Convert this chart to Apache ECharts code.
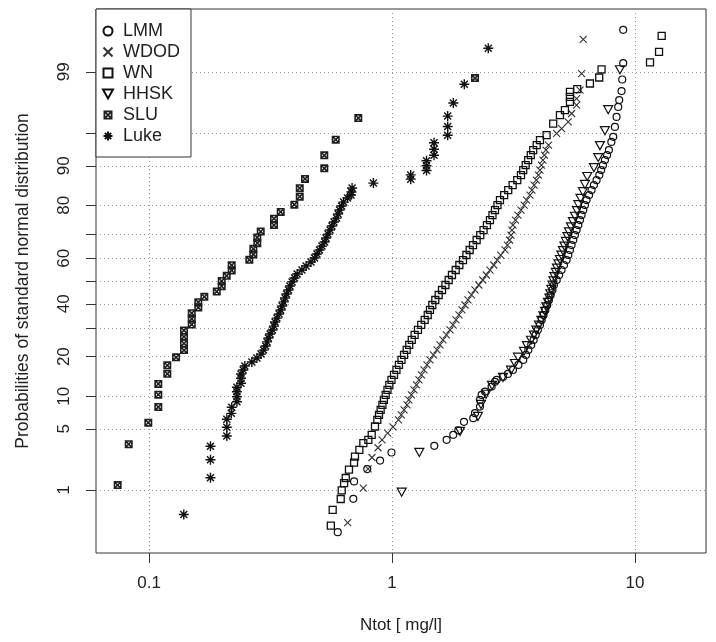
<!DOCTYPE html>
<html><head><meta charset="utf-8">
<script src="https://cdn.jsdelivr.net/npm/echarts@6/dist/echarts.min.js"></script>
<style>html,body{margin:0;padding:0;background:#fff}#c{width:716px;height:642px}</style>
</head><body><div id="c"></div>
<script>
// ---- axis definitions ----
const xTicks = [0.1, 1, 10];
const xRange = [0.0605, 19.6];
const yTickProbs = [1, 5, 10, 20, 30, 40, 50, 60, 70, 80, 90, 95, 99];
const yLabelProbs = [1, 5, 10, 20, 40, 60, 80, 90, 99];
const yProbRange = [0.124, 99.876];
const seriesNames = ['LMM', 'WDOD', 'WN', 'HHSK', 'SLU', 'Luke'];

// ---- data: Ntot [mg/l] and plotting probability [%] ----
const lmmX = [0.598,0.693,0.698,0.791,0.893,0.995,1.493,1.678,1.787,1.874,1.978,2.160,2.195,2.302,2.302,2.338,2.414,2.570,
  2.653,2.695,2.862,3.000,3.146,3.313,3.468,3.560,3.640,3.740,3.827,3.902,3.983,4.064,4.131,4.203,4.277,4.354,4.424,4.498,4.575,4.638,4.761,4.873,
  4.983,5.104,5.229,5.316,5.399,5.483,5.570,5.661,5.749,5.844,5.936,6.028,6.127,6.224,6.320,6.475,6.627,6.775,6.948,7.132,7.257,7.379,7.522,7.679,7.810,
  7.994,8.135,8.269,8.398,8.530,8.611,8.805,8.861,8.944,8.944];
const lmmP = [0.26,0.77,1.29,1.82,2.29,2.82,3.34,3.86,4.35,4.84,5.86,6.35,7.07,8.12,9.31,10.26,10.94,12.0,
  13.1,13.57,14.3,15.07,16.13,17.52,18.99,20.55,22.15,23.85,25.59,27.43,29.30,31.24,33.25,35.27,37.37,39.48,41.64,43.82,46.02,48.23,50.44,52.66,
  54.86,57.06,59.21,61.37,63.50,65.54,67.58,69.53,71.46,73.31,75.11,76.83,78.49,80.09,81.59,83.04,84.40,85.70,86.91,88.06,89.14,90.13,91.07,91.93,92.73,
  93.91,94.56,95.67,96.6,97.36,97.79,98.27,98.75,99.23,99.74];

const wdodX = [0.657,0.762,0.797,0.827,0.876,0.910,0.960,1.009,
  1.063,1.092,1.121,1.153,1.173,1.202,1.232,1.261,1.291,1.322,1.354,1.393,1.433,1.481,1.532,1.576,1.621,1.675,1.733,1.782,1.834,1.886,1.941,1.997,
  2.054,2.123,2.195,2.277,2.363,2.444,2.530,2.623,2.711,2.802,2.917,2.987,3.046,3.087,3.116,3.146,3.222,3.299,3.395,3.498,3.580,3.696,3.766,3.846,
  3.928,4.005,4.064,4.119,4.180,4.240,4.302,4.407,
  4.758,4.990,5.31,5.485,5.751,5.751,5.936,6.03,6.123];
const wdodP = [0.36,1.06,1.83,2.48,3.18,3.86,4.53,5.24,
  6.12,6.82,7.58,8.41,9.31,10.26,11.29,12.39,13.57,14.80,16.13,17.52,18.99,20.55,22.15,23.85,25.59,27.43,29.30,31.24,33.25,35.27,37.37,39.48,
  41.64,43.82,46.02,48.23,50.44,52.66,54.86,57.06,59.21,61.37,63.50,65.54,67.58,69.53,71.46,73.31,75.11,76.83,78.49,80.09,81.59,83.04,84.40,85.70,
  86.91,88.06,89.14,90.13,91.07,91.93,92.73,93.46,
  94.96,95.5,96.16,96.88,97.48,97.88,98.31,98.95,99.64];

const wnX = [0.560,0.570,0.615,0.621,0.635,0.645,0.665,0.698,0.704,0.734,0.762,0.799,0.825,0.851,
  0.870,0.884,0.898,0.913,0.926,0.942,0.958,0.975,0.995,1.019,1.043,1.068,1.094,1.121,1.149,1.177,1.206,1.239,1.279,1.319,1.363,1.403,1.433,1.465,
  1.507,1.556,1.606,1.659,1.711,1.765,1.829,1.893,1.959,2.024,2.088,2.155,2.230,2.308,2.381,2.459,2.530,2.591,2.653,2.717,2.782,2.894,3.008,3.137,
  3.277,3.395,3.467,3.549,3.633,3.725,3.812,3.940,4.064,
  4.327,4.607,4.911,5.149,5.399,5.399,5.399,5.785,6.525,7.125,7.285,11.53,12.56,12.88];
const wnP = [0.325,0.546,0.765,0.99,1.23,1.42,1.79,2.17,2.54,3.02,3.57,3.86,4.35,5.28,
  6.12,6.82,7.58,8.41,9.31,10.26,11.29,12.39,13.57,14.80,16.13,17.52,18.99,20.55,22.15,23.85,25.59,27.43,29.30,31.24,33.25,35.27,37.37,39.48,
  41.64,43.82,46.02,48.23,50.44,52.66,54.86,57.06,59.21,61.37,63.50,65.54,67.58,69.53,71.46,73.31,75.11,76.83,78.49,80.09,81.59,83.04,84.40,85.70,
  86.91,88.06,89.14,90.13,91.07,91.93,92.73,93.46,94.14,
  94.77,96.0,96.75,97.13,97.68,97.97,98.23,98.36,98.6,98.82,99.07,99.25,99.46,99.68];

const hhskX = [1.096,1.295,1.905,2.258,2.324,2.437,2.579,2.862,3.088,3.207,3.299,3.491,3.592,3.732,3.838,3.928,4.024,4.119,4.199,4.261,
  4.319,4.383,4.446,4.485,4.528,4.575,4.616,4.661,4.725,4.773,4.840,4.911,4.978,5.052,5.124,5.195,5.273,5.347,5.452,5.554,
  5.661,5.768,5.849,5.964,6.106,6.224,6.360,6.775,7.058,7.174,7.522,7.759,8.670];
const hhskP = [0.94,2.83,4.72,6.60,8.49,10.38,12.26,14.15,16.04,17.92,19.81,21.70,23.58,25.47,27.36,29.25,31.13,33.02,34.91,36.79,
  38.68,40.57,42.45,44.34,46.23,48.11,50.0,51.89,53.77,55.66,57.55,59.43,61.32,63.21,65.09,66.98,68.87,70.75,72.64,74.53,
  76.42,78.30,80.19,82.08,83.96,85.85,87.74,89.62,91.51,93.40,95.28,97.17,99.06];

const sluX = [0.0743,0.0825,0.0993,0.1092,0.1092,0.1092,0.1189,0.1189,0.1292,0.1393,0.1393,0.1393,0.1393,0.1499,0.1499,0.1499,0.1595,0.1595,
  0.1689,0.190,0.1991,0.1991,0.2088,0.2189,0.2189,0.2587,0.2687,0.2687,0.279,0.279,0.2882,0.3268,0.3268,0.3483,0.3963,0.4172,0.4172,0.4385,
  0.5264,0.5264,0.5866,0.7265,2.196];
const sluP = [1.16,3.47,5.75,8.05,10.3,12.6,15.1,17.4,19.8,22.1,24.4,26.7,29.1,31.4,33.7,36.0,38.4,40.7,
  43.0,45.3,47.7,50.0,52.3,54.7,57.0,59.3,61.6,64.0,66.3,68.6,70.9,73.3,75.6,77.9,80.2,82.6,84.9,87.2,
  89.5,91.9,94.2,96.5,98.8];

const lukeX = [0.139,0.179,0.179,0.179,0.209,0.209,0.209,0.218,0.219,0.230,0.230,0.230,0.230,0.239,0.239,0.239,
  0.244,0.248,0.265,0.278,0.289,0.296,0.302,0.306,0.310,0.315,0.322,0.327,0.330,0.336,0.343,0.348,0.353,0.358,0.363,0.368,
  0.375,0.380,0.388,0.397,0.407,0.426,0.443,0.464,0.480,0.491,0.503,0.515,0.528,0.535,0.545,0.556,0.566,0.577,0.591,0.600,
  0.608,0.620,0.632,0.656,0.678,0.681,0.685,
  0.838,1.194,1.194,1.387,1.387,1.387,1.489,1.489,1.489,1.695,1.695,1.695,1.788,1.984,2.490];
const lukeP = [0.47,1.43,2.34,3.30,4.24,5.19,6.20,7.05,8.0,8.97,9.9,10.9,11.86,12.76,13.96,15.05,
  16.1,17.2,18.4,19.6,20.8,22.1,23.5,24.9,26.3,27.8,29.3,30.8,32.4,34.0,35.7,37.35,39.05,40.8,42.5,44.25,
  46.0,47.8,49.6,51.3,53.1,54.9,56.6,58.4,60.1,61.8,63.5,65.1,66.8,68.4,69.9,71.5,72.97,74.4,75.8,77.2,
  78.5,79.8,81.0,82.2,83.06,83.9,84.96,
  86.19,87.14,88.1,89.05,90.0,90.95,91.9,92.86,93.8,94.76,95.71,96.67,97.62,98.57,99.52];

// ---- inverse standard normal CDF (probit) ----
function qnorm(p) {
  const a=[-3.969683028665376e+01,2.209460984245205e+02,-2.759285104469687e+02,1.383577518672690e+02,-3.066479806614716e+01,2.506628277459239e+00];
  const b=[-5.447609879822406e+01,1.615858368580409e+02,-1.556989798598866e+02,6.680131188771972e+01,-1.328068155288572e+01];
  const c=[-7.784894002430293e-03,-3.223964580411365e-01,-2.400758277161838e+00,-2.549732539343734e+00,4.374664141464968e+00,2.938163982698783e+00];
  const d=[7.784695709041462e-03,3.224671290700398e-01,2.445134137142996e+00,3.754408661907416e+00];
  const pl = 0.02425, ph = 1 - pl;
  let q, r;
  if (p < pl) { q = Math.sqrt(-2*Math.log(p)); return (((((c[0]*q+c[1])*q+c[2])*q+c[3])*q+c[4])*q+c[5])/((((d[0]*q+d[1])*q+d[2])*q+d[3])*q+1); }
  if (p > ph) { q = Math.sqrt(-2*Math.log(1-p)); return -(((((c[0]*q+c[1])*q+c[2])*q+c[3])*q+c[4])*q+c[5])/((((d[0]*q+d[1])*q+d[2])*q+d[3])*q+1); }
  q = p - 0.5; r = q*q;
  return (((((a[0]*r+a[1])*r+a[2])*r+a[3])*r+a[4])*r+a[5])*q/(((((b[0]*r+b[1])*r+b[2])*r+b[3])*r+b[4])*r+1);
}
const z = p => qnorm(p / 100);
const pts = (xs, ps) => xs.map((x, i) => [x, z(ps[i])]);

// ---- marker shapes (R pch 1, 4, 0, 6, 7, 8) ----
const symCircle = 'circle';
const symCross = 'path://M0,0L10,10M10,0L0,10';
const symSquare = 'path://M0,0H10V10H0Z';
const symTriDown = 'path://M0,0H10L5,9Z';
const symBoxX = 'path://M0,0H10V10H0Z M3.3,2L5,3.6L6.7,2Z M8,3.3L6.4,5L8,6.7Z M3.3,8L6.7,8L5,6.4Z M2,3.3L2,6.7L3.6,5Z';
const symStar = 'path://M5,0V10M0,5H10M1.5,1.5L8.5,8.5M8.5,1.5L1.5,8.5';

const ink = '#111';
const clear = 'rgba(0,0,0,0)';
function sc(name, xs, ps, symbol, size, style) {
  return {
    name, type: 'scatter', data: pts(xs, ps), symbol, symbolSize: size, symbolKeepAspect: true,
    itemStyle: Object.assign({ color: clear, borderColor: ink, borderWidth: 1.2, opacity: 1 }, style || {}),
    emphasis: { disabled: true }, silent: true
  };
}

const chart = echarts.init(document.getElementById('c'), null, { renderer: 'canvas' });
const font = 'Liberation Sans, Arial, Helvetica, sans-serif';
chart.setOption({
  animation: false,
  textStyle: { fontFamily: font },
  grid: { left: 96, right: 10, top: 9, bottom: 89, show: true, borderColor: '#333', borderWidth: 1, backgroundColor: 'transparent' },
  legend: {
    data: seriesNames, orient: 'vertical', left: 96, top: 9,
    padding: [13, 11, 12, 6], itemGap: 3, itemWidth: 20, itemHeight: 9,
    backgroundColor: '#fff', borderColor: '#333', borderWidth: 1, borderRadius: 0,
    selectedMode: false,
    textStyle: { fontSize: 18, color: '#222', fontFamily: font, lineHeight: 18 }
  },
  xAxis: {
    type: 'log', logBase: 10, min: xRange[0], max: xRange[1],
    axisLine: { show: false, onZero: false },
    axisTick: { show: true, length: 10, customValues: xTicks, lineStyle: { color: '#333' } },
    axisLabel: { customValues: xTicks, margin: 22, fontSize: 17, color: '#222', fontFamily: font, formatter: v => String(v) },
    splitLine: { show: true, lineStyle: { type: [1, 3], color: '#999', width: 1 } },
    name: 'Ntot [ mg/l]', nameLocation: 'middle', nameGap: 64,
    nameTextStyle: { fontSize: 17, color: '#222', fontFamily: font }
  },
  yAxis: {
    type: 'value', min: z(yProbRange[0]), max: z(yProbRange[1]),
    axisLine: { show: false, onZero: false },
    axisTick: { show: true, length: 10, customValues: yTickProbs.map(z), lineStyle: { color: '#333' } },
    axisLabel: {
      customValues: yLabelProbs.map(z), rotate: 90, margin: 23, fontSize: 17, color: '#222', fontFamily: font,
      formatter: v => { for (const p of yLabelProbs) { if (Math.abs(z(p) - v) < 1e-6) return String(p); } return ''; }
    },
    splitLine: { show: true, lineStyle: { type: [1, 3], color: '#999', width: 1 } },
    name: 'Probabilities of standard normal distribution', nameLocation: 'middle', nameGap: 64, nameRotate: 90,
    nameTextStyle: { fontSize: 17.5, color: '#222', fontFamily: font }
  },
  series: [
    sc('LMM', lmmX, lmmP, symCircle, 7),
    sc('WDOD', wdodX, wdodP, symCross, 7, { borderColor: '#333', borderWidth: 1.1 }),
    sc('WN', wnX, wnP, symSquare, 7, { borderWidth: 1.3 }),
    sc('HHSK', hhskX, hhskP, symTriDown, 9),
    sc('SLU', sluX, sluP, symBoxX, 8, { color: '#1e1e1e', borderWidth: 0 }),
    sc('Luke', lukeX, lukeP, symStar, 10, { borderWidth: 1.4 })
  ]
});
</script>
</body></html>
